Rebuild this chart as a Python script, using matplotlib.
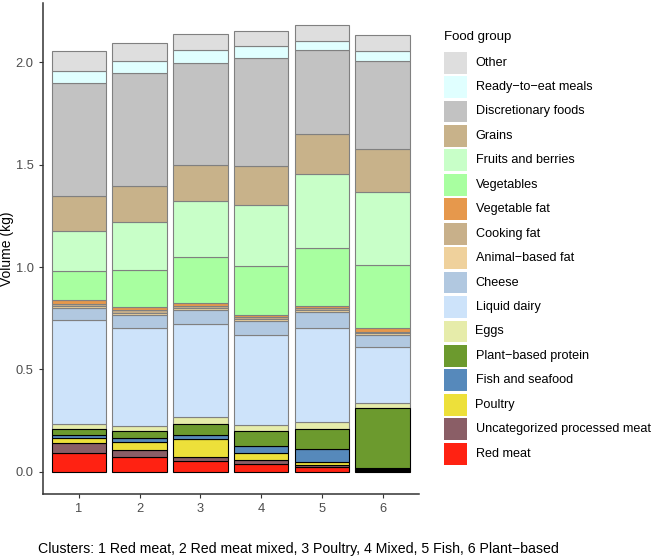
import matplotlib
matplotlib.use("Agg")
import matplotlib.pyplot as plt
from matplotlib.patches import Rectangle
import numpy as np

plt.rcParams['font.family'] = ['Liberation Sans', 'DejaVu Sans']

clusters = ["1", "2", "3", "4", "5", "6"]

# stacked bottom -> top
groups = ["Red meat", "Uncategorized processed meat", "Poultry", "Fish and seafood",
          "Plant\u2212based protein", "Eggs", "Liquid dairy", "Cheese",
          "Animal\u2212based fat", "Cooking fat", "Vegetable fat", "Vegetables",
          "Fruits and berries", "Grains", "Discretionary foods",
          "Ready\u2212to\u2212eat meals", "Other"]

red_meat = [0.089, 0.071, 0.054, 0.037, 0.023, 0.004]
processed_meat = [0.051, 0.034, 0.019, 0.020, 0.008, 0.004]
poultry = [0.027, 0.038, 0.086, 0.035, 0.016, 0.003]
fish = [0.013, 0.021, 0.019, 0.033, 0.066, 0.009]
plant_protein = [0.028, 0.034, 0.054, 0.073, 0.096, 0.290]
eggs = [0.024, 0.027, 0.034, 0.029, 0.033, 0.026]
liquid_dairy = [0.509, 0.477, 0.455, 0.441, 0.460, 0.271]
cheese = [0.057, 0.063, 0.070, 0.066, 0.079, 0.059]
animal_fat = [0.012, 0.012, 0.010, 0.012, 0.010, 0.010]
cooking_fat = [0.010, 0.012, 0.010, 0.010, 0.008, 0.008]
vegetable_fat = [0.017, 0.014, 0.014, 0.012, 0.013, 0.018]
vegetables = [0.145, 0.184, 0.224, 0.237, 0.281, 0.308]
fruits = [0.192, 0.235, 0.272, 0.297, 0.363, 0.357]
grains = [0.172, 0.174, 0.179, 0.190, 0.196, 0.210]
discretionary = [0.552, 0.553, 0.499, 0.530, 0.409, 0.432]
ready_meals = [0.061, 0.060, 0.063, 0.058, 0.042, 0.048]
other = [0.097, 0.086, 0.078, 0.073, 0.078, 0.078]

series = [red_meat, processed_meat, poultry, fish, plant_protein, eggs, liquid_dairy,
          cheese, animal_fat, cooking_fat, vegetable_fat, vegetables, fruits, grains,
          discretionary, ready_meals, other]

colors = ["#FF2212", "#8A5E66", "#EDE03A", "#5689BB", "#6C9A2E", "#E6ECAA",
          "#CDE3FA", "#B1C8E0", "#EFD19C", "#C8B08A", "#E6984C", "#A8FFA0",
          "#C8FFC8", "#C8B28A", "#C2C2C2", "#E0FFFF", "#DEDEDE"]
black_edge = {0, 1, 2, 3, 4}

fig = plt.figure(figsize=(6.54, 5.6), dpi=100)
ax = fig.add_axes([42.6/654, 1-494/560, (419-42.6)/654, (494-3)/560])

x = np.arange(1, len(clusters)+1)
bottom = np.zeros(len(clusters))
for i, (vals, col) in enumerate(zip(series, colors)):
    vals = np.array(vals)
    ec = "black" if i in black_edge else "#808080"
    ax.bar(x, vals, width=0.9, bottom=bottom, color=col, edgecolor=ec, linewidth=0.8,
           zorder=2 if i in black_edge else 1)
    bottom += vals

ax.set_xlim(0.4, 6.6)
ax.set_ylim(-0.109, 2.29)
ax.set_xticks(x)
ax.set_xticklabels(clusters)
ax.set_yticks([0, 0.5, 1.0, 1.5, 2.0])
ax.set_yticklabels(["0.0", "0.5", "1.0", "1.5", "2.0"])
for s in ["top", "right"]:
    ax.spines[s].set_visible(False)
for s in ["left", "bottom"]:
    ax.spines[s].set_color("#333333")
    ax.spines[s].set_linewidth(1.1)
ax.tick_params(axis="both", colors="#333333", labelcolor="#4D4D4D", labelsize=9.3, length=3, width=0.8)
ax.set_ylabel("Volume (kg)", fontsize=10, color="black")
ax.yaxis.set_label_coords((14.5 - 42.6) / 376.4, 0.5)

# legend
fig.text(444/654, 1-37/560, "Food group", fontsize=9.5, ha="left", va="center")
step = 24.44
for k, idx in enumerate(range(len(groups)-1, -1, -1)):
    top = 51.7 + k*step
    fig.patches.append(Rectangle((444/654, 1-(top+21.8)/560), 22.7/654, 21.8/560,
                                 transform=fig.transFigure, facecolor=colors[idx], edgecolor="none"))
    fig.text(475.5/654, 1-(top+10.9)/560, groups[idx], fontsize=9.1, ha="left", va="center")

fig.text(38/654, 1-549/560,
         "Clusters: 1 Red meat, 2 Red meat mixed, 3 Poultry, 4 Mixed, 5 Fish, 6 Plant\u2212based",
         fontsize=10.2, ha="left", va="center")

fig.savefig("out.png", dpi=100)
